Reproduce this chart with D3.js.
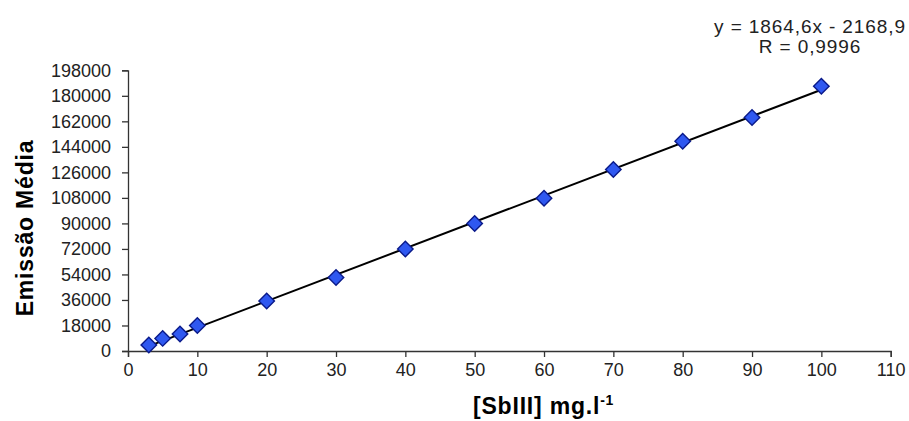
<!DOCTYPE html>
<html>
<head>
<meta charset="utf-8">
<script src="https://cdn.jsdelivr.net/npm/d3@7"></script>
<style>
  html, body { margin: 0; padding: 0; background: #fff; }
  svg { display: block; }
  text { font-family: "Liberation Sans", Arial, sans-serif; }
</style>
</head>
<body>
<svg id="chart" width="909" height="421"></svg>
<script>
// ---- data ----
const concentrations = [3, 5, 7.5, 10, 20, 30, 40, 50, 60, 70, 80, 90, 100];
const emission = [4200, 8900, 12000, 18000, 35200, 51900, 71900, 90000, 107800, 128000, 148000, 164700, 186700];
const xTicks = [0, 10, 20, 30, 40, 50, 60, 70, 80, 90, 100, 110];
const yTicks = [0, 18000, 36000, 54000, 72000, 90000, 108000, 126000, 144000, 162000, 180000, 198000];
const trendSlope = 1864.6;
const trendIntercept = -2168.9;
const equationLines = ["y = 1864,6x - 2168,9", "R = 0,9996"];
const xTitle = "[SbIII] mg.l";
const xTitleSup = "-1";
const yTitle = "Emissão Média";

// ---- layout ----
const svg = d3.select("#chart");
const x = d3.scaleLinear().domain([0, 110]).range([128, 890.7]);
const y = d3.scaleLinear().domain([0, 198000]).range([351, 70.3]);
const axisColor = "#333";

// y axis
const yAxis = svg.append("g")
  .attr("transform", `translate(${x(0)},0)`)
  .call(d3.axisLeft(y).tickValues(yTicks).tickSize(6).tickPadding(11).tickFormat(d3.format("d")));
// x axis
const xAxis = svg.append("g")
  .attr("transform", `translate(0,${y(0)})`)
  .call(d3.axisBottom(x).tickValues(xTicks).tickSize(6).tickPadding(6).tickFormat(d3.format("d")));

[xAxis, yAxis].forEach(g => {
  g.select(".domain").attr("stroke", axisColor).attr("stroke-width", 1.3);
  g.selectAll(".tick line").attr("stroke", axisColor).attr("stroke-width", 1.3);
  g.selectAll(".tick text").attr("fill", "#222").style("font-size", "18px")
    .style("font-family", "'Liberation Sans', Arial, sans-serif");
});

// trend line
const xs = d3.extent(concentrations);
svg.append("line")
  .attr("x1", x(xs[0])).attr("y1", y(trendSlope * xs[0] + trendIntercept))
  .attr("x2", x(xs[1])).attr("y2", y(trendSlope * xs[1] + trendIntercept))
  .attr("stroke", "#000").attr("stroke-width", 2);

// markers
const diamond = d3.symbol().type(d3.symbolSquare).size(120);
svg.append("g").selectAll("path")
  .data(concentrations.map((c, i) => [c, emission[i]]))
  .join("path")
  .attr("d", diamond)
  .attr("transform", d => `translate(${x(d[0])},${y(d[1])}) rotate(45)`)
  .attr("fill", "#2f58f0")
  .attr("stroke", "#0a1a8a")
  .attr("stroke-width", 1.4);

// equation
svg.append("g").selectAll("text")
  .data(equationLines)
  .join("text")
  .attr("x", 810)
  .attr("y", (d, i) => 33 + i * 20)
  .attr("text-anchor", "middle")
  .attr("fill", "#222")
  .style("font-size", "19px")
  .style("letter-spacing", "0.9px")
  .text(d => d);

// x title
const xt = svg.append("text")
  .attr("x", 473)
  .attr("y", 414)
  .attr("fill", "#000")
  .style("font-size", "23px")
  .style("font-weight", "bold")
  .style("letter-spacing", "0.8px");
xt.append("tspan").text(xTitle);
xt.append("tspan").attr("dy", -9).style("font-size", "14px").text(xTitleSup);

// y title
svg.append("text")
  .attr("transform", "translate(33,228) rotate(-90)")
  .attr("text-anchor", "middle")
  .attr("fill", "#000")
  .style("font-size", "23px")
  .style("font-weight", "bold")
  .style("letter-spacing", "0.8px")
  .text(yTitle);
</script>
</body>
</html>
